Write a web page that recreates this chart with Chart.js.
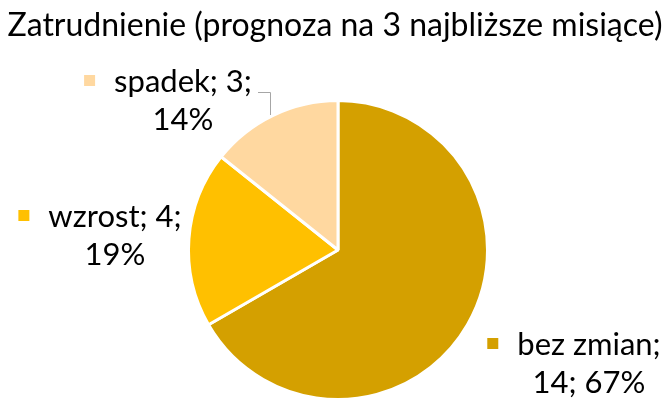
<!DOCTYPE html>
<html lang="pl">
<head>
<meta charset="UTF-8" />
<title>Zatrudnienie</title>
<script src="https://cdn.jsdelivr.net/npm/chart.js"></script>
<style>
  html, body { margin: 0; padding: 0; background: #fff; }
  #wrap { width: 668px; height: 401px; position: relative; }
</style>
</head>
<body>
<div id="wrap"><canvas id="chart"></canvas></div>
<script>
  // data
  const categories = ["bez zmian", "wzrost", "spadek"];
  const values = [14, 4, 3];
  const percents = ["67%", "19%", "14%"];
  const colors = ["#D4A000", "#FFC000", "#FFD8A0"];
  const title = "Zatrudnienie (prognoza na 3 najbliższe misiące)";

  // label placement (block centre x, first baseline y, line break)
  const labelPos = [
    { x: 589, y: 355, lines: [categories[0] + ";", values[0] + "; " + percents[0]] },
    { x: 115, y: 227, lines: [categories[1] + "; " + values[1] + ";", percents[1]] },
    { x: 183, y: 92, lines: [categories[2] + "; " + values[2] + ";", percents[2]] },
  ];

  const labelPlugin = {
    id: "excelLabels",
    afterDraw: (chart) => {
      const ctx = chart.ctx;
      ctx.save();
      // title
      ctx.fillStyle = "#000";
      ctx.font = "32px Lato";
      ctx.textAlign = "center";
      ctx.textBaseline = "alphabetic";
      ctx.fillText(title, 335, 36);

      // leader line for spadek
      ctx.strokeStyle = "#a6a6a6";
      ctx.lineWidth = 1;
      ctx.beginPath();
      ctx.moveTo(258, 92.5);
      ctx.lineTo(270.5, 92.5);
      ctx.lineTo(270.5, 115);
      ctx.stroke();

      ctx.font = "31px Lato";
      labelPos.forEach((p, i) => {
        ctx.fillStyle = "#000";
        ctx.textAlign = "center";
        p.lines.forEach((t, j) => ctx.fillText(t, p.x, p.y + j * 38));
        const w = ctx.measureText(p.lines[0]).width;
        ctx.fillStyle = colors[i];
        ctx.fillRect(p.x - w / 2 - 30, p.y - 17, 11, 11);
      });
      ctx.restore();
    },
  };

  new Chart(document.getElementById("chart"), {
    type: "pie",
    data: {
      labels: categories,
      datasets: [{
        data: values,
        backgroundColor: colors,
        borderColor: "#ffffff",
        borderWidth: 3,
      }],
    },
    options: {
      responsive: true,
      maintainAspectRatio: false,
      animation: false,
      layout: { padding: { top: 99, left: 8, right: 0, bottom: 0 } },
      plugins: {
        legend: { display: false },
        title: { display: false },
        tooltip: { enabled: false },
      },
    },
    plugins: [labelPlugin],
  });
</script>
</body>
</html>
